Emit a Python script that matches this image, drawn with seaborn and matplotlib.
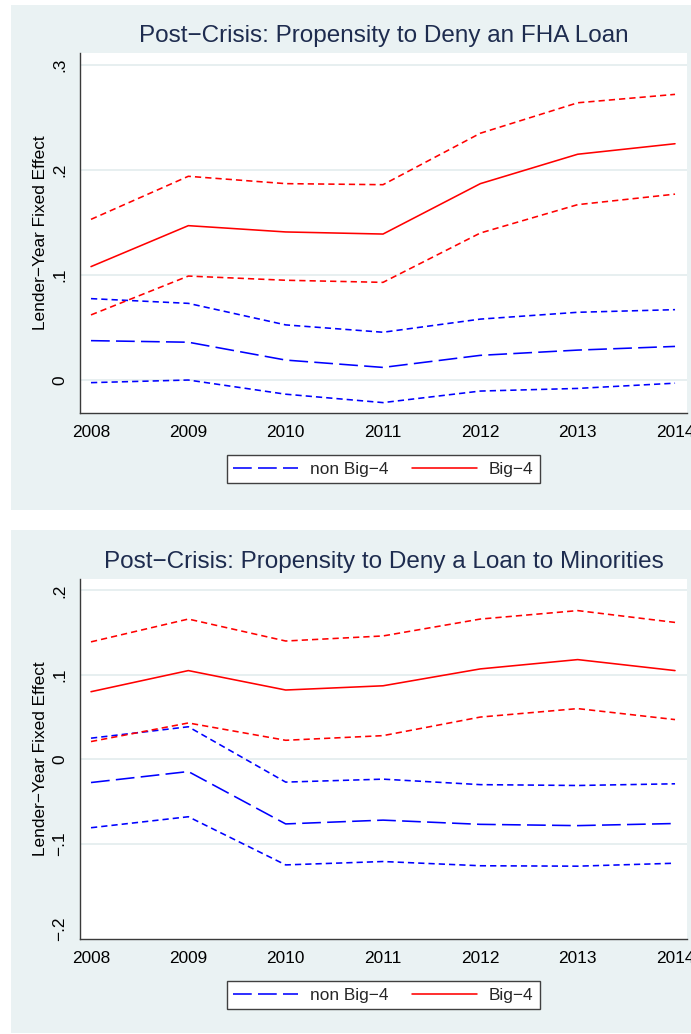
import matplotlib
matplotlib.use("Agg")
import matplotlib.pyplot as plt
import pandas as pd
import seaborn as sns
from matplotlib.patches import Rectangle

# ---- data -------------------------------------------------------------
years = [2008, 2009, 2010, 2011, 2012, 2013, 2014]

# Panel 1: FHA loan denial
fha_big4 = [0.108, 0.147, 0.141, 0.139, 0.187, 0.215, 0.225]
fha_big4_hi = [0.153, 0.194, 0.187, 0.186, 0.235, 0.264, 0.272]
fha_big4_lo = [0.062, 0.099, 0.095, 0.093, 0.140, 0.167, 0.177]
fha_non = [0.0375, 0.036, 0.019, 0.012, 0.0235, 0.0285, 0.032]
fha_non_hi = [0.0775, 0.073, 0.0525, 0.0455, 0.058, 0.0645, 0.067]
fha_non_lo = [-0.0025, 0.0, -0.0135, -0.0215, -0.0105, -0.008, -0.003]

# Panel 2: denial to minorities
min_big4 = [0.080, 0.105, 0.082, 0.087, 0.107, 0.118, 0.105]
min_big4_hi = [0.139, 0.166, 0.140, 0.146, 0.166, 0.176, 0.162]
min_big4_lo = [0.021, 0.043, 0.0225, 0.028, 0.050, 0.060, 0.047]
min_non = [-0.0275, -0.0145, -0.0765, -0.072, -0.077, -0.0785, -0.076]
min_non_hi = [0.025, 0.0385, -0.027, -0.0235, -0.030, -0.031, -0.029]
min_non_lo = [-0.081, -0.068, -0.125, -0.121, -0.126, -0.1265, -0.123]

titles = ["Post\u2212Crisis: Propensity to Deny an FHA Loan",
          "Post\u2212Crisis: Propensity to Deny a Loan to Minorities"]
ylabel = "Lender\u2212Year Fixed Effect"
legend_labels = ["non Big\u22124", "Big\u22124"]
ticks_1 = [0.0, 0.1, 0.2, 0.3]
ticklabels_1 = ["0", ".1", ".2", ".3"]
ticks_2 = [-0.2, -0.1, 0.0, 0.1, 0.2]
ticklabels_2 = ["\u2212.2", "\u2212.1", "0", ".1", ".2"]

# ---- style ------------------------------------------------------------
sns.set_style("white")
plt.rcParams["font.family"] = ["Liberation Sans", "DejaVu Sans"]
plt.rcParams["lines.scale_dashes"] = False

W, H = 691, 1034
BG = "#eaf2f3"
GRID = "#e3ecee"
AXIS = "#3a3a3a"
TITLE = "#1e2c4f"
RED = "#ff0000"
BLUE = "#0000ff"
LW = 1.15
SHORT = (0, (4.5, 2.9))
LONG = (0, (13.5, 4.5))
FS = 12.4

fig = plt.figure(figsize=(W / 100, H / 100), dpi=100)
fig.patch.set_facecolor("white")


def frac_box(x0, y0, x1, y1):
    """Pixel box (top-left origin) to figure-fraction rect."""
    return [x0 / W, 1 - y1 / H, (x1 - x0) / W, (y1 - y0) / H]


# graph-region backgrounds
for (x0, y0, x1, y1) in [(11, 5, 691, 510), (11, 530, 691, 1033)]:
    l, b, w, h = frac_box(x0, y0, x1, y1)
    fig.add_artist(Rectangle((l, b), w, h, transform=fig.transFigure,
                             facecolor=BG, edgecolor="none", zorder=-5))

panels = [
    dict(box=(80, 53, 687, 413), ylim=(-0.0314, 0.3114),
         ticks=ticks_1, labels=ticklabels_1, title=titles[0],
         big=fha_big4, big_hi=fha_big4_hi, big_lo=fha_big4_lo,
         non=fha_non, non_hi=fha_non_hi, non_lo=fha_non_lo,
         hide_grid=[]),
    dict(box=(80, 579, 687, 939), ylim=(-0.2127, 0.2134),
         ticks=ticks_2, labels=ticklabels_2, title=titles[1],
         big=min_big4, big_hi=min_big4_hi, big_lo=min_big4_lo,
         non=min_non, non_hi=min_non_hi, non_lo=min_non_lo,
         hide_grid=[0]),
]

for p in panels:
    ax = fig.add_axes(frac_box(*p["box"]))
    ax.set_facecolor("white")

    df = pd.DataFrame({"year": years,
                       "big": p["big"], "big_hi": p["big_hi"], "big_lo": p["big_lo"],
                       "non": p["non"], "non_hi": p["non_hi"], "non_lo": p["non_lo"]})

    sns.lineplot(data=df, x="year", y="non_hi", ax=ax, color=BLUE,
                 linewidth=LW, linestyle=SHORT, errorbar=None, legend=False)
    sns.lineplot(data=df, x="year", y="non_lo", ax=ax, color=BLUE,
                 linewidth=LW, linestyle=SHORT, errorbar=None, legend=False)
    sns.lineplot(data=df, x="year", y="big_hi", ax=ax, color=RED,
                 linewidth=LW, linestyle=SHORT, errorbar=None, legend=False)
    sns.lineplot(data=df, x="year", y="big_lo", ax=ax, color=RED,
                 linewidth=LW, linestyle=SHORT, errorbar=None, legend=False)
    sns.lineplot(data=df, x="year", y="non", ax=ax, color=BLUE,
                 linewidth=LW, linestyle=LONG, errorbar=None,
                 label=legend_labels[0])
    sns.lineplot(data=df, x="year", y="big", ax=ax, color=RED,
                 linewidth=LW, linestyle="-", errorbar=None,
                 label=legend_labels[1])

    ax.set_xlim(2007.887, 2014.123)
    ax.set_ylim(*p["ylim"])
    ax.set_xticks(years)
    ax.set_xticklabels([str(y) for y in years])
    ax.set_yticks(p["ticks"])
    ax.set_yticklabels(p["labels"])

    ax.set_axisbelow(True)
    ax.yaxis.grid(True, color=GRID, linewidth=1.2)
    ax.xaxis.grid(False)
    for i in p["hide_grid"]:
        ax.get_ygridlines()[i].set_visible(False)

    for s in ["top", "right"]:
        ax.spines[s].set_visible(False)
    for s in ["left", "bottom"]:
        ax.spines[s].set_color(AXIS)
        ax.spines[s].set_linewidth(1.0)

    ax.tick_params(axis="both", direction="out", length=5.3, width=1,
                   color=AXIS, labelsize=FS, labelcolor="black")
    ax.tick_params(axis="x", pad=3.5)
    ax.tick_params(axis="y", pad=3.7, labelrotation=90)
    for t in ax.get_yticklabels():
        t.set_verticalalignment("center")

    ax.set_xlabel("")
    ax.set_ylabel(ylabel, fontsize=FS, color="black")
    ax.yaxis.set_label_coords((48 - 80) / 607, 0.5)

    ax.set_title(p["title"], fontsize=17.5, color=TITLE, pad=7.6)

    handles, labels = ax.get_legend_handles_labels()
    order = [labels.index(l) for l in legend_labels]
    leg = ax.legend([handles[i] for i in order], [labels[i] for i in order],
                    loc="center", bbox_to_anchor=(0.5, -0.156), ncol=2,
                    fontsize=FS, frameon=True, fancybox=False, framealpha=1,
                    handlelength=3.77, handletextpad=0.7, columnspacing=1.34,
                    borderpad=0.38, borderaxespad=0)
    leg.get_frame().set_edgecolor("#404040")
    leg.get_frame().set_linewidth(1.0)

fig.savefig("out.png", dpi=100, facecolor=fig.get_facecolor())
